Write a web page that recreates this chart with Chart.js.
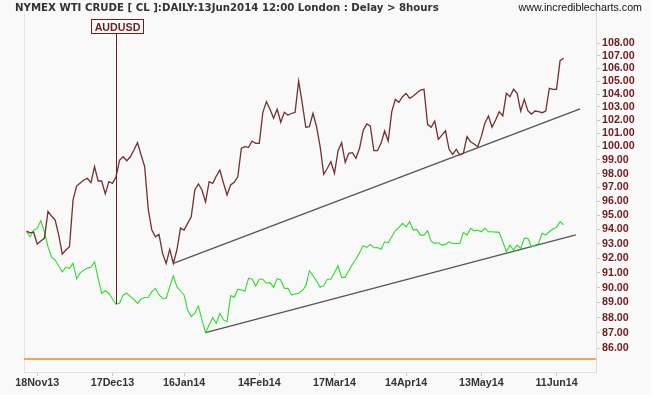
<!DOCTYPE html>
<html><head><meta charset="utf-8">
<script src="https://cdn.jsdelivr.net/npm/chart.js@4.4.0/dist/chart.umd.min.js"></script>
<style>html,body{margin:0;padding:0;background:#f9f9f9;overflow:hidden}canvas{display:block}</style>
</head><body><canvas id="c" width="651" height="395"></canvas>
<script>
// Trading days (categories)
const dates = [
 '13Nov13','14Nov13','15Nov13','18Nov13','19Nov13','20Nov13','21Nov13','22Nov13','25Nov13','26Nov13','27Nov13','28Nov13','29Nov13',
 '2Dec13','3Dec13','4Dec13','5Dec13','6Dec13','9Dec13','10Dec13','11Dec13','12Dec13','13Dec13','16Dec13','17Dec13','18Dec13','19Dec13','20Dec13','23Dec13','24Dec13','26Dec13','27Dec13','30Dec13','31Dec13',
 '2Jan14','3Jan14','6Jan14','7Jan14','8Jan14','9Jan14','10Jan14','13Jan14','14Jan14','15Jan14','16Jan14','17Jan14','20Jan14','21Jan14','22Jan14','23Jan14','24Jan14','27Jan14','28Jan14','29Jan14','30Jan14','31Jan14',
 '3Feb14','4Feb14','5Feb14','6Feb14','7Feb14','10Feb14','11Feb14','12Feb14','13Feb14','14Feb14','17Feb14','18Feb14','19Feb14','20Feb14','21Feb14','24Feb14','25Feb14','26Feb14','27Feb14','28Feb14',
 '3Mar14','4Mar14','5Mar14','6Mar14','7Mar14','10Mar14','11Mar14','12Mar14','13Mar14','14Mar14','17Mar14','18Mar14','19Mar14','20Mar14','21Mar14','24Mar14','25Mar14','26Mar14','27Mar14','28Mar14','31Mar14',
 '1Apr14','2Apr14','3Apr14','4Apr14','7Apr14','8Apr14','9Apr14','10Apr14','11Apr14','14Apr14','15Apr14','16Apr14','17Apr14','18Apr14','21Apr14','22Apr14','23Apr14','24Apr14','25Apr14','28Apr14','29Apr14','30Apr14',
 '1May14','2May14','5May14','6May14','7May14','8May14','9May14','12May14','13May14','14May14','15May14','16May14','19May14','20May14','21May14','22May14','23May14','26May14','27May14','28May14','29May14','30May14',
 '2Jun14','3Jun14','4Jun14','5Jun14','6Jun14','9Jun14','10Jun14','11Jun14','12Jun14','13Jun14'
];

// NYMEX WTI crude (CL) daily
const wti = [
 93.88,93.76,93.81,92.97,93.18,93.37,95.27,94.94,94.65,93.60,
 92.28,92.56,92.79,96.09,97.09,97.31,97.53,97.66,97.34,98.51,
 97.46,97.46,96.52,97.41,97.29,97.77,99.00,99.24,98.95,99.24,
 99.74,100.29,99.37,98.51,95.42,93.95,93.48,93.65,92.33,91.64,
 92.61,91.64,92.56,94.09,93.95,94.42,94.89,96.81,97.24,96.81,
 95.94,97.41,97.29,97.82,98.26,97.31,96.45,97.17,97.36,97.77,
 99.87,99.99,99.94,100.41,100.24,100.24,102.59,103.41,102.82,102.13,
 102.82,101.83,102.59,102.38,102.50,102.59,105.02,103.28,101.45,101.49,
 102.52,101.49,99.99,97.95,98.39,98.88,98.02,99.69,100.29,98.83,
 99.50,99.54,99.13,99.87,101.19,101.70,101.55,99.69,99.69,100.24,
 101.17,100.41,102.64,103.59,103.36,103.79,104.05,103.67,103.85,104.08,
 104.31,104.37,101.67,101.45,101.92,100.54,100.86,101.19,99.79,99.42,
 99.79,99.37,99.50,100.74,100.36,100.19,99.99,100.74,101.75,102.31,
 101.45,102.00,102.64,102.31,104.05,103.79,104.37,104.05,102.69,103.59,
 102.72,102.46,102.69,102.64,102.56,102.69,104.45,104.37,104.37,106.62,
 106.82
];

// AUDUSD comparison overlay (rebased onto the price scale)
const audusd = [
 93.83,93.48,93.95,94.07,94.61,93.83,92.79,92.06,91.87,91.46,
 91.05,91.39,91.30,91.64,90.60,91.00,91.18,91.32,91.37,91.75,
 90.64,89.62,89.79,89.62,89.24,88.89,88.95,89.51,89.62,89.41,
 89.21,88.95,89.24,89.34,89.35,89.73,89.95,89.51,89.29,89.29,
 90.06,90.80,90.06,89.77,89.51,88.51,88.07,88.29,88.77,87.85,
 87.02,87.52,88.00,87.63,88.29,87.85,87.74,89.46,89.35,89.89,
 89.84,89.77,90.62,90.58,90.11,90.56,90.56,90.29,90.33,90.02,
 90.62,90.51,89.95,89.95,89.51,89.57,89.62,89.79,90.11,91.14,
 90.80,90.44,90.02,90.13,90.56,90.56,91.00,91.48,90.69,90.69,
 91.14,91.58,91.92,92.37,92.86,92.74,92.95,92.72,92.74,92.61,
 93.13,93.06,93.48,93.90,94.14,94.42,94.18,94.54,93.95,94.00,
 93.60,93.60,93.90,93.18,93.02,93.06,92.90,92.95,93.13,93.01,
 93.01,93.01,93.79,93.60,94.07,93.90,93.95,93.83,94.07,93.83,
 93.83,93.81,93.79,93.13,92.44,92.90,92.56,92.90,92.67,93.37,
 93.37,92.79,92.90,93.02,93.72,93.60,93.83,94.02,94.14,94.54,
 94.31
];

// Trend lines: [bar index, price]
const upperTrendX = [41, 154.6];
const upperTrendY = [91.64, 102.85];
const lowerTrendX = [50, 153.4];
const lowerTrendY = [87.02, 93.61];

const tickLabels = ['18Nov13','17Dec13','16Jan14','14Feb14','17Mar14','14Apr14','13May14','11Jun14'];
const yTicks = [86,87,88,89,90,91,92,93,94,95,96,97,98,99,100,101,102,103,104,105,106,107,108];
const markerDate = '18Dec13';
const markerText = 'AUDUSD';
const titleText = 'NYMEX WTI CRUDE [ CL ]:DAILY:13Jun2014 12:00 London : Delay > 8hours';
const siteText = 'www.incrediblecharts.com';

const FONT = 'Liberation Sans, Arial, Helvetica, sans-serif';
const TFONT = '"DejaVu Sans", Verdana, sans-serif';
const tickIdx = tickLabels.map(t => dates.indexOf(t));
const markerIdx = dates.indexOf(markerDate);
const toXY = arr => arr.map((v, i) => ({x: i, y: v}));
const pair = (xs, ys) => xs.map((x, i) => ({x: x, y: ys[i]}));

const decor = {
  id: 'decor',
  beforeDraw(chart) {
    const {ctx, width, height} = chart;
    ctx.save(); ctx.fillStyle = '#f9f9f9'; ctx.fillRect(0, 0, width, height); ctx.restore();
  },
  beforeDatasetsDraw(chart) {
    const {ctx, chartArea: a} = chart;
    ctx.save();
    ctx.strokeStyle = '#e2e2e2'; ctx.lineWidth = 1;
    ctx.beginPath(); ctx.moveTo(a.left + 0.5, a.top); ctx.lineTo(a.left + 0.5, a.bottom); ctx.stroke();
    ctx.strokeStyle = '#f08a24'; ctx.lineWidth = 1.6;
    const yb = a.bottom - 13;
    ctx.beginPath(); ctx.moveTo(a.left, yb); ctx.lineTo(a.right, yb); ctx.stroke();
    ctx.restore();
  },
  afterDraw(chart) {
    const {ctx} = chart;
    const xs = chart.scales.x, ys = chart.scales.y;
    ctx.save();
    ctx.textBaseline = 'alphabetic';
    ctx.fillStyle = '#333333';
    ctx.font = 'bold 10.2px ' + TFONT;
    ctx.textAlign = 'left';
    ctx.fillText(titleText, 15, 11);
    ctx.fillStyle = '#111111';
    ctx.font = '10.7px ' + FONT;
    ctx.textAlign = 'right';
    ctx.fillText(siteText, 642, 11);
    // marker
    const mx = Math.round(xs.getPixelForValue(markerIdx)) + 0.5;
    const my = ys.getPixelForValue(audusd[markerIdx]);
    ctx.font = 'bold 10.7px ' + FONT;
    const tw = ctx.measureText(markerText).width;
    const bw = Math.round(tw + 6), bh = 14, bt = 19.5;
    const bl = Math.round(mx - bw / 2) + 0.5;
    ctx.strokeStyle = '#6b1f1f'; ctx.lineWidth = 1;
    ctx.fillStyle = '#f9f9f9';
    ctx.fillRect(bl, bt, bw, bh);
    ctx.strokeRect(bl, bt, bw, bh);
    ctx.beginPath(); ctx.moveTo(mx, bt + bh); ctx.lineTo(mx, my); ctx.stroke();
    ctx.fillStyle = '#6b1f1f';
    ctx.textAlign = 'center';
    ctx.fillText(markerText, bl + bw / 2, bt + 11);
    ctx.restore();
  }
};

new Chart(document.getElementById('c'), {
  type: 'line',
  data: {
    datasets: [
      {data: toXY(wti), borderColor: '#733030', borderWidth: 1.3, pointRadius: 0, tension: 0},
      {data: toXY(audusd), borderColor: '#2cdc2c', borderWidth: 1.1, pointRadius: 0, tension: 0},
      {data: pair(upperTrendX, upperTrendY), borderColor: '#555555', borderWidth: 1.3, pointRadius: 0},
      {data: pair(lowerTrendX, lowerTrendY), borderColor: '#555555', borderWidth: 1.3, pointRadius: 0}
    ]
  },
  options: {
    responsive: false, animation: false, devicePixelRatio: 1,
    layout: {padding: {top: 13, left: 24, right: 0, bottom: 0}},
    plugins: {legend: {display: false}, tooltip: {enabled: false}},
    scales: {
      x: {
        type: 'linear', position: 'bottom', min: -0.698, max: 159.03,
        afterBuildTicks: s => { s.ticks = tickIdx.map(v => ({value: v})); },
        afterFit: s => { s.height = 23; },
        ticks: {autoSkip: false, maxRotation: 0, padding: 1, color: '#333333',
          font: {family: FONT, size: 10.7, weight: 'bold'}, callback: v => dates[v]},
        grid: {drawOnChartArea: false, drawTicks: true, tickLength: 4, color: '#c8c8c8'},
        border: {display: true, color: '#e0e0e0'}
      },
      y: {
        type: 'logarithmic', position: 'right', min: 84.5, max: 110.49,
        afterBuildTicks: s => { s.ticks = yTicks.map(v => ({value: v})); },
        afterFit: s => { s.width = 55; },
        ticks: {autoSkip: false, padding: 2, color: '#6e1c1c',
          font: {family: FONT, size: 10.7, weight: 'bold'}, callback: v => Number(v).toFixed(2)},
        grid: {drawOnChartArea: false, drawTicks: true, tickLength: 4, color: '#c8c8c8'},
        border: {display: true, color: '#dcdcdc'}
      }
    }
  },
  plugins: [decor]
});
</script></body></html>
